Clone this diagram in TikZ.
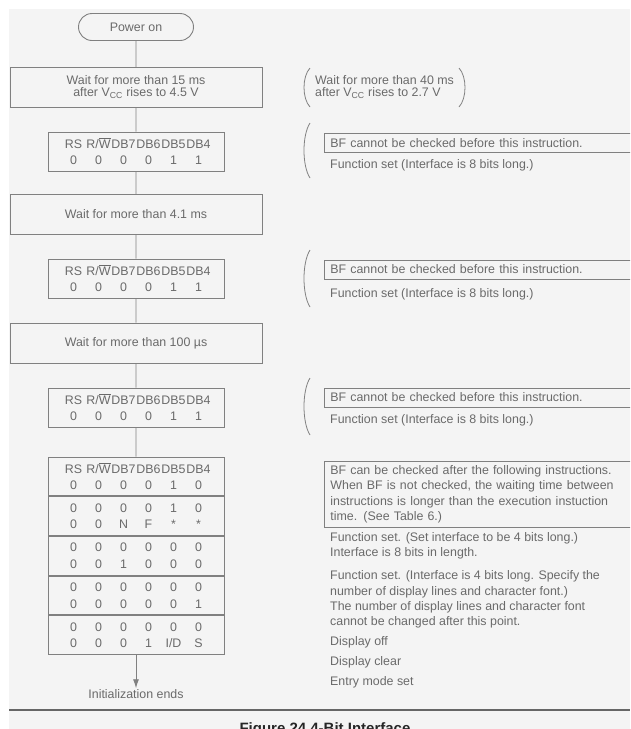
\documentclass[tikz,border=0pt]{standalone}
\usepackage{fontspec}
\setmainfont{Liberation Sans}
\usetikzlibrary{positioning,shapes.misc,arrows.meta}

\definecolor{scangray}{HTML}{F4F4F4}
\definecolor{inkgray}{HTML}{6A6A6A}
\definecolor{linegray}{HTML}{808080}

% one row of the six bit columns
\newcommand{\bitrow}[6]{\makebox[25pt]{#1}\makebox[25pt]{#2}\makebox[25pt]{#3}\makebox[25pt]{#4}\makebox[25pt]{#5}\makebox[25pt]{#6}}
\newcommand{\RWbar}{R/$\overline{\hbox{W}}$}
\newcommand{\bithead}{\bitrow{RS}{\RWbar}{DB7}{DB6}{DB5}{DB4}}
% tall thin brackets beside the notes
\newcommand{\noteparenL}[3]{\draw[paren] (#1,#2) .. controls ({#1-8},{#2+0.22*(#3-#2)}) and ({#1-8},{#2+0.78*(#3-#2)}) .. (#1,#3);}
\newcommand{\noteparenR}[3]{\draw[paren] (#1,#2) .. controls ({#1+8},{#2+0.22*(#3-#2)}) and ({#1+8},{#2+0.78*(#3-#2)}) .. (#1,#3);}

\tikzset{
  flowbox/.style={draw=linegray, line width=0.9pt, text=inkgray, align=center, inner sep=0pt},
  startbox/.style={flowbox, rounded rectangle, minimum width=115pt, minimum height=27pt, font=\fontsize{12.4}{12}\selectfont},
  waitbox/.style={flowbox, minimum width=252pt, minimum height=40pt, font=\fontsize{12.4}{12}\selectfont},
  bitbox/.style={flowbox, minimum width=176pt, minimum height=39pt, font=\fontsize{12.4}{16.5}\selectfont},
  notebox/.style={draw=linegray, line width=0.8pt, text=inkgray, anchor=north west, text width=300pt, align=left,
    inner xsep=6pt, inner ysep=0pt, minimum height=19pt, font=\fontsize{12.4}{15.5}\selectfont},
  note/.style={text=inkgray, anchor=west, inner sep=0pt, align=left, font=\fontsize{12.4}{15.2}\selectfont},
  paren/.style={draw=linegray, line width=0.8pt},
  flow/.style={draw=linegray, line width=0.9pt}
}

\begin{document}
\begin{tikzpicture}[x=1pt, y=-1pt]
    \def\midx{136}
    \def\notex{330}

    % Scanned page background
    \clip (0,0) rectangle (630,729);
    \fill[white] (0,0) rectangle (630,729);
    \fill[scangray] (9,9) rectangle (630,729);

    % Main flow on the left
    \node[startbox] (power) at (\midx,27) {Power on};
    \node[waitbox] (wait1) at (\midx,87.5) {Wait for more than 15 ms\\after V\textsubscript{CC} rises to 4.5 V};
    \node[bitbox] (set1) at (\midx,151.5) {\bithead\\\bitrow{0}{0}{0}{0}{1}{1}};
    \node[waitbox] (wait2) at (\midx,214.5) {Wait for more than 4.1 ms};
    \node[bitbox] (set2) at (\midx,278.5) {\bithead\\\bitrow{0}{0}{0}{0}{1}{1}};
    \node[waitbox] (wait3) at (\midx,343) {Wait for more than 100 µs};
    \node[bitbox] (set3) at (\midx,407.5) {\bithead\\\bitrow{0}{0}{0}{0}{1}{1}};

    % Stacked instruction table
    \node[bitbox, minimum height=38.8pt] (sec1) at (\midx,476.4) {\bithead\\\bitrow{0}{0}{0}{0}{1}{0}};
    \node[bitbox, minimum height=38.8pt, below=0pt of sec1] (sec2) {\bitrow{0}{0}{0}{0}{1}{0}\\\bitrow{0}{0}{N}{F}{*}{*}};
    \node[bitbox, minimum height=38.8pt, below=0pt of sec2] (sec3) {\bitrow{0}{0}{0}{0}{0}{0}\\\bitrow{0}{0}{1}{0}{0}{0}};
    \node[bitbox, minimum height=38.8pt, below=0pt of sec3] (sec4) {\bitrow{0}{0}{0}{0}{0}{0}\\\bitrow{0}{0}{0}{0}{0}{1}};
    \node[bitbox, minimum height=38.8pt, below=0pt of sec4] (sec5) {\bitrow{0}{0}{0}{0}{0}{0}\\\bitrow{0}{0}{0}{1}{I/D}{S}};

    \node[text=inkgray, inner sep=1pt, font=\fontsize{12.4}{12}\selectfont] (initend) at (\midx,694) {Initialization ends};

    % Connectors
    \draw[flow] (power) -- (wait1) -- (set1) -- (wait2) -- (set2) -- (wait3) -- (set3) -- (sec1);
    \draw[flow, -{Latex[length=9pt,width=6pt]}] (sec5) -- (initend);

    % Notes on the right
    \node[note, font=\fontsize{12.4}{12.5}\selectfont] (vcc) at (315,87) {Wait for more than 40 ms\\after V\textsubscript{CC} rises to 2.7 V};
    \noteparenL{310}{68}{107}
    \noteparenR{459}{68}{107}

    \node[notebox] (bf1) at (324,133) {BF cannot be checked before this instruction.};
    \node[note] (fs1) at (\notex,165) {Function set  (Interface is 8 bits long.)};
    \noteparenL{310}{123}{178}

    \node[notebox] (bf2) at (324,259.5) {BF cannot be checked before this instruction.};
    \node[note] (fs2) at (\notex,294) {Function set  (Interface is 8 bits long.)};
    \noteparenL{310}{250}{307}

    \node[notebox] (bf3) at (324,387.5) {BF cannot be checked before this instruction.};
    \node[note] (fs3) at (\notex,420) {Function set  (Interface is 8 bits long.)};
    \noteparenL{310}{378}{435}

    \node[notebox, minimum height=66pt] (bf4) at (324,461) {BF can be checked after the following instructions.\\When BF is not checked, the waiting time between\\instructions is longer than the execution instuction\\time.  (See Table 6.)};
    \node[note] (fs4) at (\notex,545.5) {Function set. (Set interface to be 4 bits long.)\\Interface is 8 bits in length.};
    \node[note] (fs5) at (\notex,599.5) {Function set. (Interface is 4 bits long.  Specify the\\number of display lines and character font.)\\The number of display lines and character font\\cannot be changed after this point.};
    \node[note] (doff) at (\notex,642) {Display off};
    \node[note] (dclr) at (\notex,662) {Display clear};
    \node[note] (emode) at (\notex,682) {Entry mode set};

    % Rule and caption, cut by the page edge
    \draw[line width=2pt, draw=black!60] (9,710) -- (630,710);
    \node[anchor=base, inner sep=0pt, text=black!85, font=\bfseries\fontsize{15}{15}\selectfont] (caption) at (325,733) {Figure 24  4-Bit Interface};
\end{tikzpicture}
\end{document}
